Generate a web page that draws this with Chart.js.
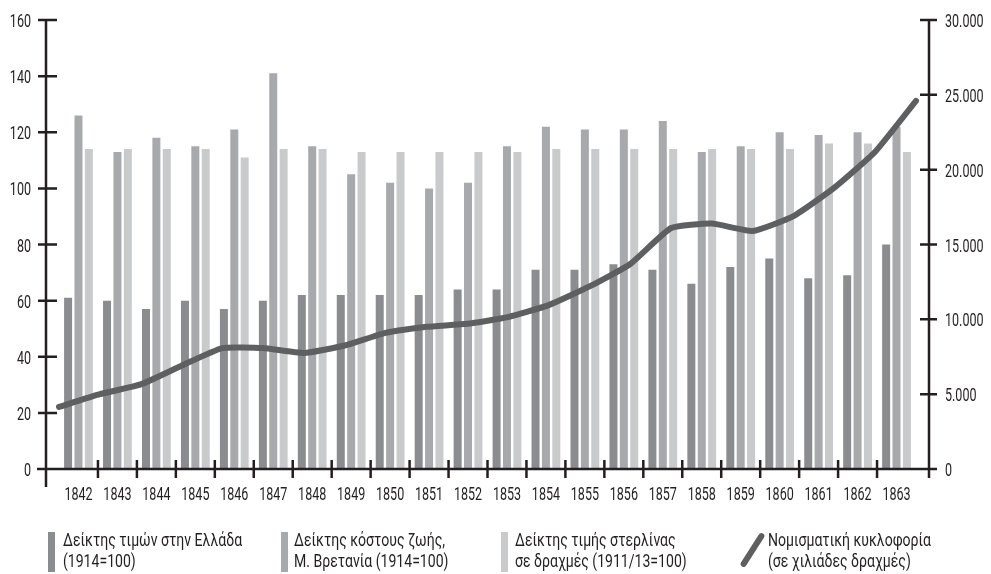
<!DOCTYPE html>
<html>
<head>
<meta charset="utf-8">
<script src="https://cdn.jsdelivr.net/npm/chart.js@4.4.1/dist/chart.umd.min.js"></script>
<style>
    body { margin: 0; background: #fff; }
    #wrap { position: relative; width: 991px; height: 574px; overflow: hidden; }
    #chart, #lineChart { position: absolute; left: 0; top: 0; }
    .legend-text {
        position: absolute;
        top: 529px;
        font-family: Roboto, "Noto Sans", sans-serif;
        font-size: 19px;
        line-height: 21px;
        color: #231f20;
        white-space: nowrap;
        transform: scaleX(0.74);
        transform-origin: 0 0;
    }
    .legend-box { position: absolute; top: 532px; width: 7px; height: 40px; }
    .legend-slash {
        position: absolute;
        left: 733px; top: 547px;
        width: 39px; height: 6px;
        border-radius: 3px;
        transform: rotate(-57.5deg);
    }
</style>
</head>
<body>
<div id="wrap">
    <canvas id="chart" width="991" height="574"></canvas>
    <canvas id="lineChart" width="991" height="574"></canvas>
</div>
<script>
const years = [1842, 1843, 1844, 1845, 1846, 1847, 1848, 1849, 1850, 1851, 1852,
               1853, 1854, 1855, 1856, 1857, 1858, 1859, 1860, 1861, 1862, 1863];

// Δείκτης τιμών στην Ελλάδα (1914=100)
const greecePrices = [61, 60, 57, 60, 57, 60, 62, 62, 62, 62, 64,
                      64, 71, 71, 73, 71, 66, 72, 75, 68, 69, 80];
// Δείκτης κόστους ζωής, Μ. Βρετανία (1914=100)
const britainCost = [126, 113, 118, 115, 121, 141, 115, 105, 102, 100, 102,
                     115, 122, 121, 121, 124, 113, 115, 120, 119, 120, 122];
// Δείκτης τιμής στερλίνας σε δραχμές (1911/13=100)
const sterlingPrice = [114, 114, 114, 114, 111, 114, 114, 113, 113, 113, 113,
                       113, 114, 114, 114, 114, 114, 114, 114, 116, 116, 113];
// Νομισματική κυκλοφορία (σε χιλιάδες δραχμές)
const circulation = [4150, 5000, 5650, 6900, 8080, 8080, 7750, 8250, 9100, 9500, 9700,
                     10150, 10950, 12200, 13700, 16100, 16400, 15900, 16900, 18800, 21200, 24600];

const leftTicks = [0, 20, 40, 60, 80, 100, 120, 140, 160];
const rightTicks = [0, 5000, 10000, 15000, 20000, 25000, 30000];

const legendLabels = [
    ['Δείκτης τιμών στην Ελλάδα', '(1914=100)'],
    ['Δείκτης κόστους ζωής,', 'Μ. Βρετανία (1914=100)'],
    ['Δείκτης τιμής στερλίνας', 'σε δραχμές (1911/13=100)'],
    ['Νομισματική κυκλοφορία', '(σε χιλιάδες δραχμές)']
];

const colors = ['#8b8c8f', '#a8a9ac', '#c9cacc', '#5e5f61'];
const inkColor = '#231f20';
const labelFont = '19px Roboto, "Noto Sans", sans-serif';
const squeeze = 0.66;   // the original uses a condensed face
const axisGap = 13;     // axes stand a little outside the bar area

// plot box shared by both canvases
const plotBox = { top: 20, left: 59, right: 75, bottom: 105 };

// thousands with a dot, as in the original
const formatThousands = v => String(v).replace(/\B(?=(\d{3})+(?!\d))/g, '.');

function narrowText(ctx, text, x, y, align) {
    ctx.save();
    ctx.translate(x, y);
    ctx.scale(squeeze, 1);
    ctx.textAlign = align;
    ctx.fillText(text, 0, 0);
    ctx.restore();
}

// axis lines, crossing tick marks and condensed tick labels
const axisLines = {
    id: 'axisLines',
    afterDatasetsDraw(chart) {
        const { ctx, chartArea, scales } = chart;
        const { x, y, y1 } = scales;
        const base = y.getPixelForValue(0);
        const leftX = chartArea.left - axisGap;
        const rightX = chartArea.right + axisGap;
        ctx.save();
        ctx.strokeStyle = inkColor;
        ctx.lineWidth = 2.5;
        ctx.beginPath();
        ctx.moveTo(leftX, y.getPixelForValue(leftTicks[leftTicks.length - 1]));
        ctx.lineTo(leftX, base + 18);
        ctx.moveTo(rightX, y1.getPixelForValue(rightTicks[rightTicks.length - 1]));
        ctx.lineTo(rightX, base + 9);
        ctx.moveTo(leftX - 9, base);
        ctx.lineTo(rightX, base);
        leftTicks.forEach(v => {
            const py = y.getPixelForValue(v);
            ctx.moveTo(leftX - 8, py);
            ctx.lineTo(leftX + 11, py);
        });
        rightTicks.forEach(v => {
            const py = y1.getPixelForValue(v);
            ctx.moveTo(rightX - 9, py);
            ctx.lineTo(rightX + 8, py);
        });
        for (let i = 0; i < years.length - 1; i++) {
            const px = (x.getPixelForValue(i) + x.getPixelForValue(i + 1)) / 2;
            ctx.moveTo(px, base - 9);
            ctx.lineTo(px, base + 9);
        }
        ctx.stroke();

        ctx.fillStyle = inkColor;
        ctx.font = labelFont;
        ctx.textBaseline = 'alphabetic';
        leftTicks.forEach(v => {
            narrowText(ctx, String(v), leftX - 15, y.getPixelForValue(v) + 7, 'right');
        });
        rightTicks.forEach(v => {
            narrowText(ctx, formatThousands(v), rightX + 16, y1.getPixelForValue(v) + 7, 'left');
        });
        years.forEach((yr, i) => {
            narrowText(ctx, String(yr), x.getPixelForValue(i), base + 31, 'center');
        });
        ctx.restore();
    }
};

const hiddenAxis = {
    grid: { display: false, drawTicks: false },
    border: { display: false },
    ticks: { display: false }
};

// bars, axes and labels
new Chart(document.getElementById('chart'), {
    type: 'bar',
    data: {
        labels: years,
        datasets: [
            { label: legendLabels[0].join(' '), data: greecePrices, backgroundColor: colors[0] },
            { label: legendLabels[1].join(' '), data: britainCost, backgroundColor: colors[1] },
            { label: legendLabels[2].join(' '), data: sterlingPrice, backgroundColor: colors[2] }
        ]
    },
    options: {
        responsive: false,
        animation: false,
        categoryPercentage: 0.8,
        barPercentage: 0.77,
        layout: { padding: { top: plotBox.top, left: 0, right: 0, bottom: 0 } },
        plugins: {
            legend: { display: false },
            tooltip: { enabled: false }
        },
        scales: {
            x: Object.assign({ type: 'category', offset: true,
                afterFit: s => { s.height = plotBox.bottom; } }, hiddenAxis),
            y: Object.assign({ position: 'left', min: 0, max: 160,
                afterFit: s => { s.width = plotBox.left; } }, hiddenAxis),
            y1: Object.assign({ position: 'right', min: 0, max: 30000,
                afterFit: s => { s.width = plotBox.right; } }, hiddenAxis)
        }
    },
    plugins: [axisLines]
});

// money in circulation, drawn on its own layer so it runs edge to edge
new Chart(document.getElementById('lineChart'), {
    type: 'line',
    data: {
        labels: years,
        datasets: [{
            label: legendLabels[3].join(' '),
            data: circulation,
            borderColor: colors[3],
            borderWidth: 6,
            borderCapStyle: 'round',
            borderJoinStyle: 'round',
            pointRadius: 0,
            tension: 0.15
        }]
    },
    options: {
        responsive: false,
        animation: false,
        layout: { padding: plotBox },
        plugins: {
            legend: { display: false },
            tooltip: { enabled: false }
        },
        scales: {
            x: { type: 'category', offset: false, display: false },
            y: { min: 0, max: 30000, display: false }
        }
    }
});

// legend under the chart
const wrap = document.getElementById('wrap');
const legendBoxX = [48, 281, 501];
const legendTextX = [63, 294, 515, 768];
legendLabels.forEach((lines, i) => {
    if (i < 3) {
        const box = document.createElement('div');
        box.className = 'legend-box';
        box.style.left = legendBoxX[i] + 'px';
        box.style.background = colors[i];
        wrap.appendChild(box);
    } else {
        const slash = document.createElement('div');
        slash.className = 'legend-slash';
        slash.style.background = colors[i];
        wrap.appendChild(slash);
    }
    const text = document.createElement('div');
    text.className = 'legend-text';
    text.style.left = legendTextX[i] + 'px';
    text.innerHTML = lines.join('<br>');
    wrap.appendChild(text);
});
</script>
</body>
</html>
